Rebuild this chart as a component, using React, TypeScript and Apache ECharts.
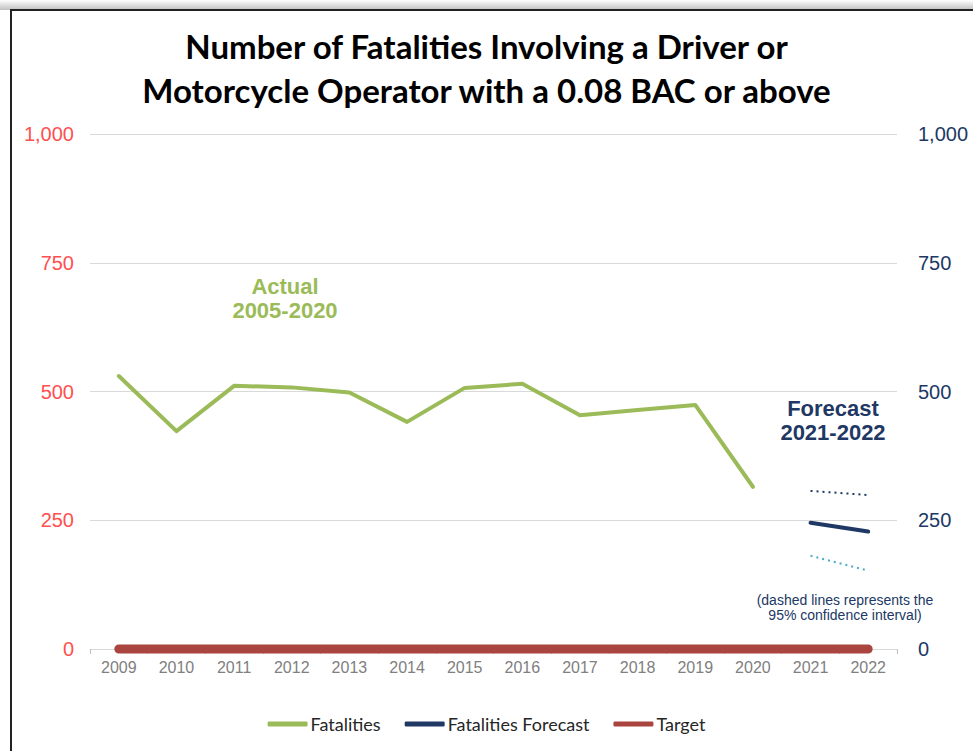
import React, { useEffect, useRef } from "react";
import * as echarts from "echarts";

const years = ["2009", "2010", "2011", "2012", "2013", "2014", "2015", "2016", "2017", "2018", "2019", "2020", "2021", "2022"];
const fatalities = [530, 423, 511, 508, 498, 441, 507, 515, 454, 464, 474, 315, null, null];
const forecast = [null, null, null, null, null, null, null, null, null, null, null, null, 245, 228];
const forecastUpper = [null, null, null, null, null, null, null, null, null, null, null, null, 307, 299];
const forecastLower = [null, null, null, null, null, null, null, null, null, null, null, null, 181, 152];
const target = [0, 0, 0, 0, 0, 0, 0, 0, 0, 0, 0, 0, 0, 0];
const yTicks = [0, 250, 500, 750, 1000];

const titleLines = ["Number of Fatalities Involving a Driver or", "Motorcycle Operator with a 0.08 BAC or above"];

export default function App() {
  const ref = useRef<HTMLDivElement>(null);
  useEffect(() => {
    if (!ref.current) return;
    const chart = echarts.init(ref.current, null, { renderer: "svg" });
    const fmt = (v: number) => v.toLocaleString("en-US");
    chart.setOption({
      animation: false,
      backgroundColor: "transparent",
      title: {
        text: titleLines.join("\n"),
        left: "center",
        top: 19,
        textStyle: { fontFamily: "Lato", fontWeight: "bold", fontSize: 33, lineHeight: 44, color: "#000" },
      },
      grid: { left: 90, right: 76, top: 134, bottom: 102 },
      legend: {
        bottom: 13,
        left: "center",
        itemWidth: 40,
        itemHeight: 5,
        itemGap: 24,
        icon: "roundRect",
        data: ["Fatalities", "Fatalities Forecast", "Target"],
        textStyle: { fontFamily: "Lato", fontSize: 18, color: "#262626", padding: [0, 0, 0, -2] },
      },
      xAxis: {
        type: "category",
        data: years,
        boundaryGap: true,
        axisLine: { lineStyle: { color: "#d9d9d9" } },
        axisTick: { show: true, length: 5, lineStyle: { color: "#bfbfbf" } },
        axisLabel: { fontFamily: "Liberation Sans", fontSize: 16, color: "#808080", margin: 10 },
      },
      yAxis: [
        {
          type: "value",
          min: yTicks[0],
          max: yTicks[yTicks.length - 1],
          interval: 250,
          axisLine: { show: false },
          axisTick: { show: false },
          splitLine: { lineStyle: { color: "#d9d9d9" } },
          axisLabel: { fontFamily: "Liberation Sans", fontSize: 20, color: "#ff4f4f", margin: 16, formatter: fmt },
        },
        {
          type: "value",
          min: yTicks[0],
          max: yTicks[yTicks.length - 1],
          interval: 250,
          position: "right",
          axisLine: { show: false },
          axisTick: { show: false },
          splitLine: { show: false },
          axisLabel: { fontFamily: "Liberation Sans", fontSize: 20, color: "#203864", margin: 21, formatter: fmt },
        },
      ],
      series: [
        {
          name: "Target",
          type: "line",
          data: target,
          showSymbol: false,
          clip: false,
          color: "#a9443f",
          lineStyle: { width: 9, color: "#a9443f", cap: "round" },
          z: 2,
        },
        {
          name: "Fatalities",
          type: "line",
          data: fatalities,
          showSymbol: false,
          color: "#9bbb59",
          lineStyle: { width: 4, color: "#9bbb59", cap: "round", join: "round" },
          z: 3,
        },
        {
          name: "Fatalities Forecast",
          type: "line",
          data: forecast,
          showSymbol: false,
          color: "#1f3864",
          lineStyle: { width: 4, color: "#1f3864", cap: "round" },
          z: 3,
        },
        {
          name: "Upper",
          type: "line",
          data: forecastUpper,
          showSymbol: false,
          color: "#1f3864",
          lineStyle: { width: 2, color: "#1f3864", type: [2, 4] },
        },
        {
          name: "Lower",
          type: "line",
          data: forecastLower,
          showSymbol: false,
          color: "#4bacc6",
          lineStyle: { width: 2, color: "#4bacc6", type: [2, 4] },
        },
      ],
      graphic: [
        {
          type: "text",
          x: 285,
          y: 274,
          style: {
            text: "Actual\n2005-2020",
            align: "center",
            fontFamily: "Liberation Sans",
            fontWeight: "bold",
            fontSize: 22,
            lineHeight: 24,
            fill: "#9bbb59",
          },
        },
        {
          type: "text",
          x: 833,
          y: 396,
          style: {
            text: "Forecast\n2021-2022",
            align: "center",
            fontFamily: "Liberation Sans",
            fontWeight: "bold",
            fontSize: 22,
            lineHeight: 24,
            fill: "#1f3864",
          },
        },
        {
          type: "text",
          x: 845,
          y: 592,
          style: {
            text: "(dashed lines represents the\n95% confidence interval)",
            align: "center",
            fontFamily: "Liberation Sans",
            fontSize: 14,
            lineHeight: 15,
            fill: "#203864",
          },
        },
      ],
    });
    return () => chart.dispose();
  }, []);

  return (
    <div style={{ position: "fixed", left: 0, top: 0, width: 973, height: 751, background: "#fff", overflow: "hidden" }}>
      <div
        style={{
          position: "absolute",
          left: 0,
          top: 0,
          width: 973,
          height: 10,
          background: "linear-gradient(#ffffff, #bfbfbf)",
        }}
      />
      <div
        style={{
          position: "absolute",
          left: 10,
          top: 9,
          width: 1000,
          height: 800,
          borderLeft: "2px solid #222",
          borderTop: "2px solid #222",
          background: "#fff",
        }}
      />
      <div ref={ref} style={{ position: "absolute", left: 0, top: 0, width: 973, height: 751 }} />
    </div>
  );
}
